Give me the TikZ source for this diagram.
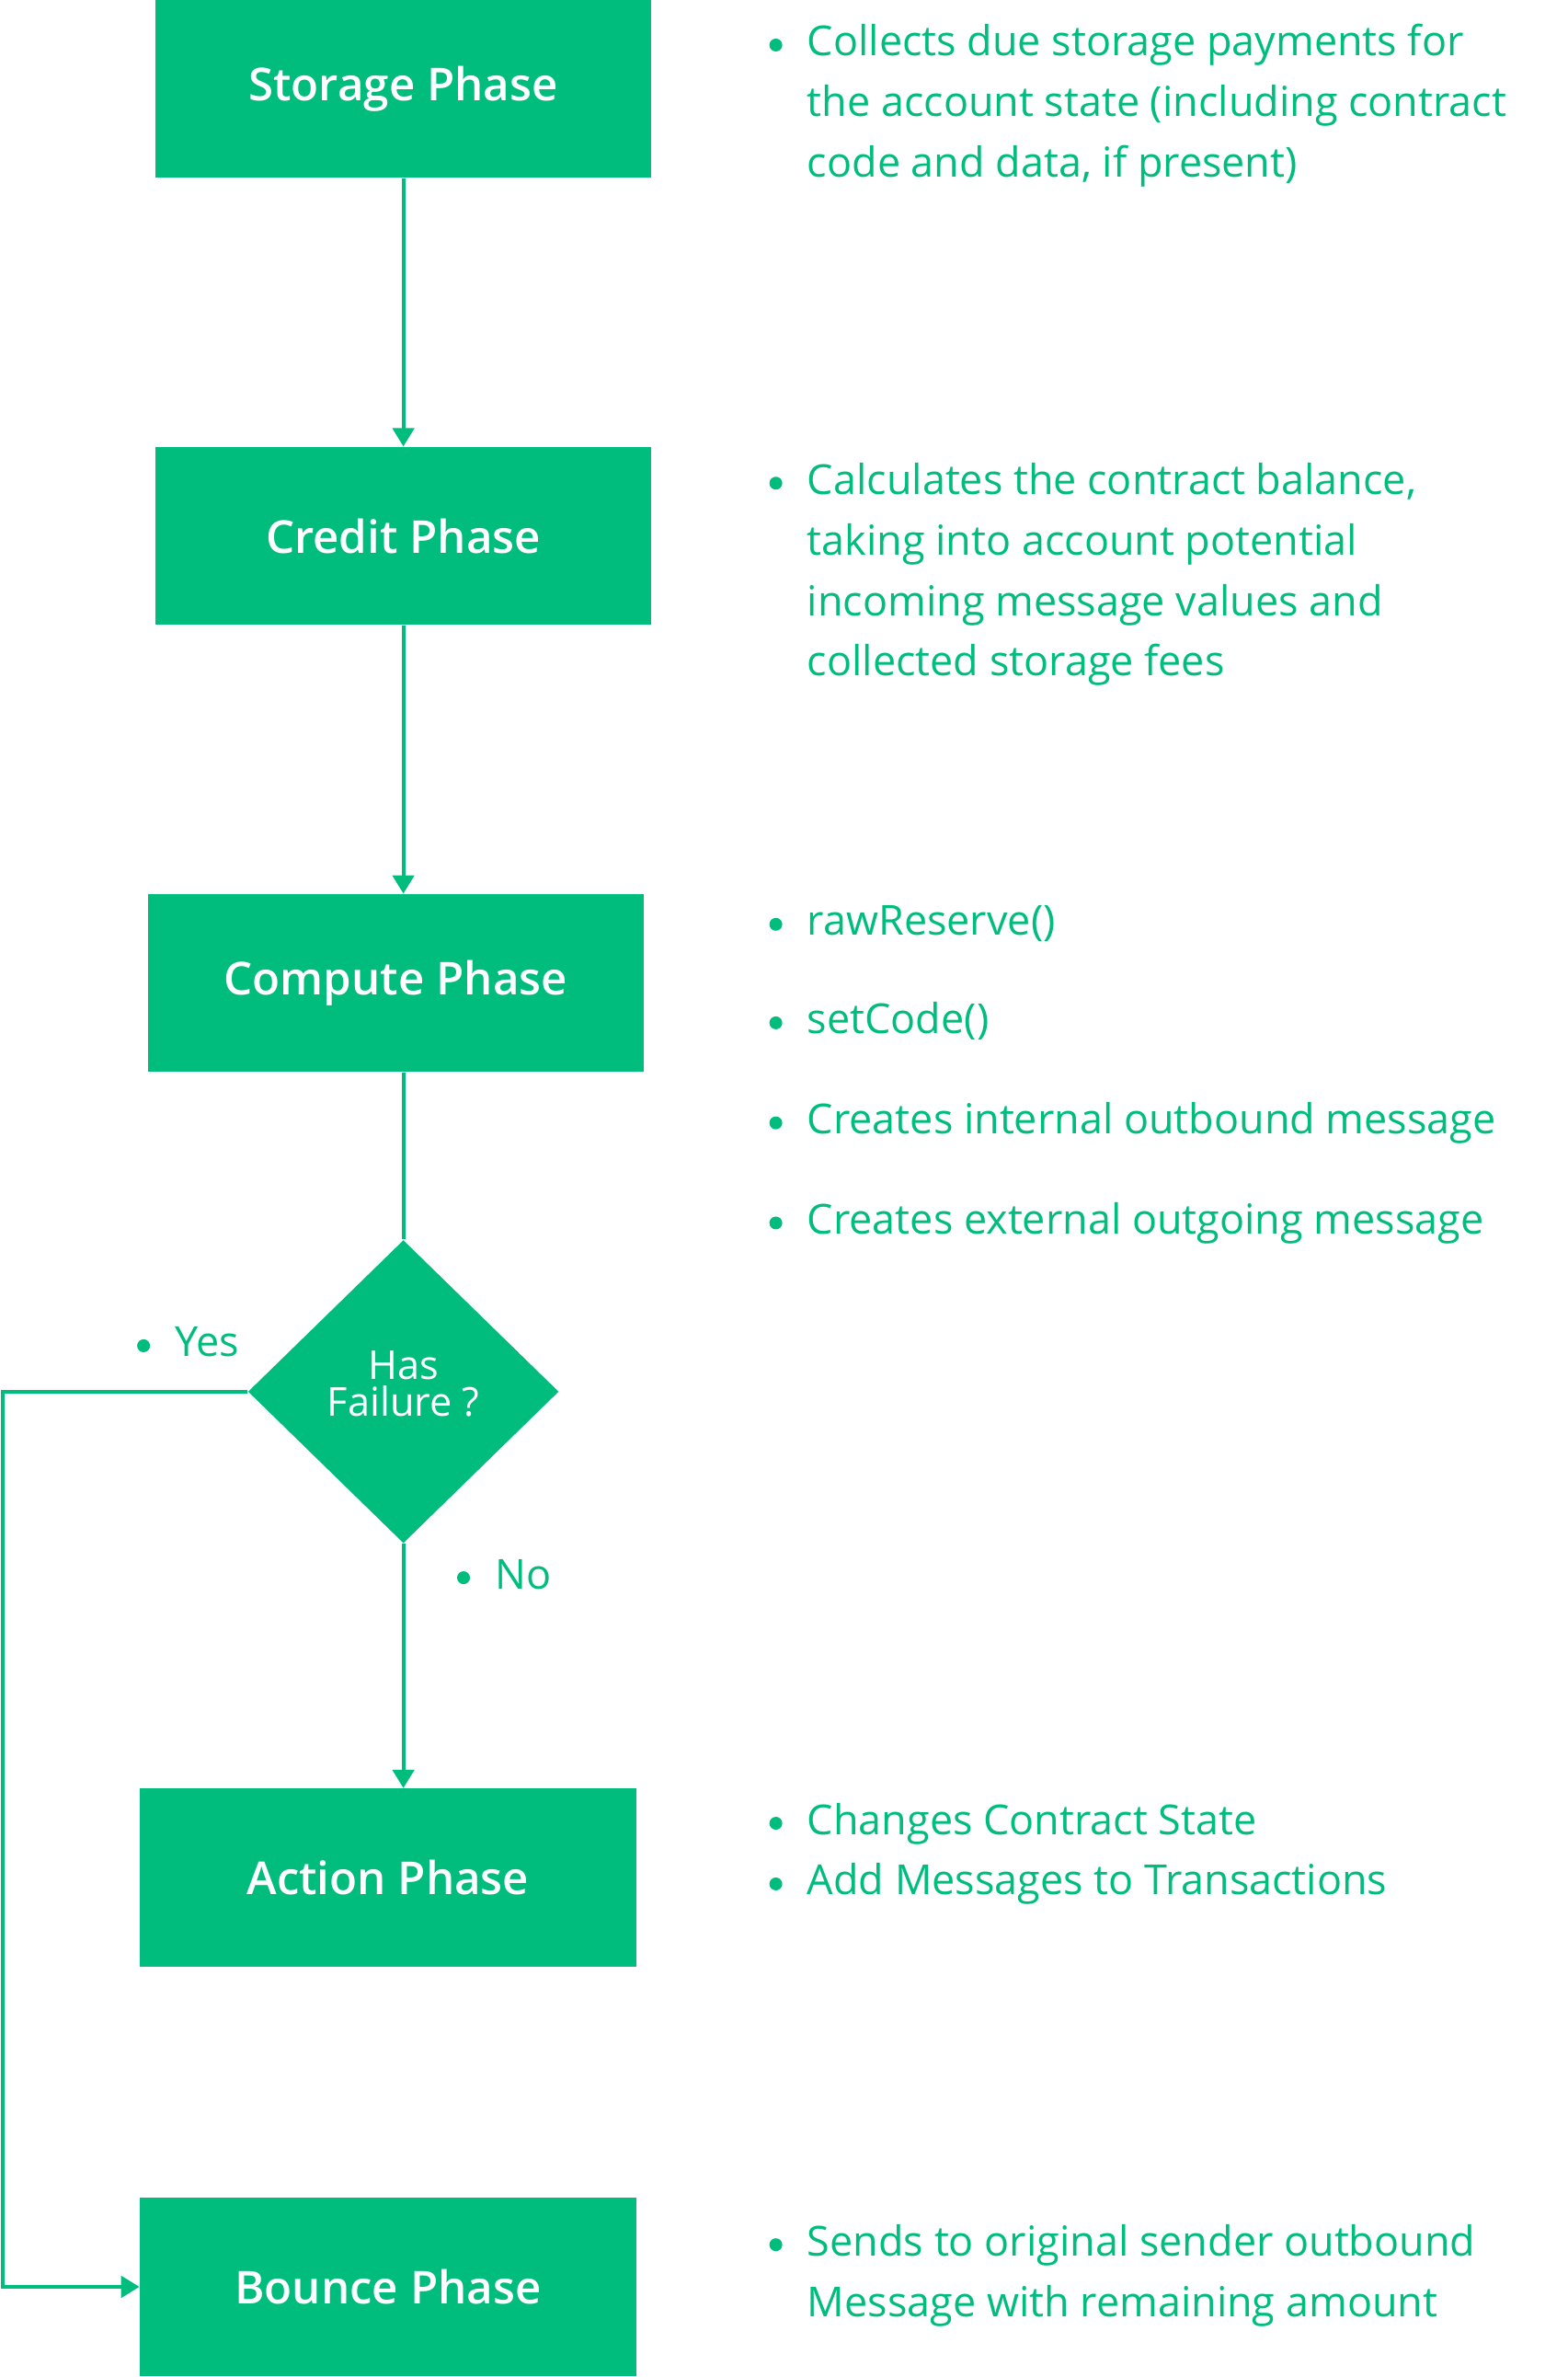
\documentclass[tikz,border=0pt]{standalone}
\usepackage{fontspec}
\setmainfont{Open Sans}
\newfontfamily\labelfont{Open Sans Semibold}
\usetikzlibrary{positioning, shapes.geometric, arrows.meta}
\definecolor{phasegreen}{HTML}{00BC7D}
\newcommand{\bul}{\llap{\raisebox{1.5pt}{\tikz\fill[phasegreen] (0,0) circle (2.1pt);}\hspace{8.2pt}}}

\begin{document}
\begin{tikzpicture}[
    x=0.5pt, y=-0.495pt,
    phase/.style={rectangle, fill=phasegreen, text=white, inner sep=0pt,
        minimum width=162pt, minimum height=58pt,
        font=\fontsize{14.8}{17}\labelfont},
    check/.style={diamond, fill=phasegreen, inner sep=0pt,
        minimum width=101.5pt, minimum height=99pt},
    note/.style={anchor=base west, align=left, inner sep=0pt,
        text=phasegreen, font=\fontsize{13.5}{19.8}\selectfont},
    link/.style={color=phasegreen, line width=1.2pt},
    flow/.style={link, -{Triangle[width=7pt, length=6pt]}}
]
\useasboundingbox (0,0) rectangle (1024,1568);

% Phases
\node[phase] (storage) at (263.5,58.5) {Storage Phase};
\node[phase] (credit) at (263.5,353.5) {Credit Phase};
\node[phase] (compute) at (258.5,648.5) {Compute Phase};
\node[check, label={[align=center, text=white, yshift=2.5pt,
    font=\fontsize{13}{12}\selectfont]center:Has\\Failure ?}] (failure) at (263.5,918) {};
\node[phase] (action) at (253.5,1238.5) {Action Phase};
\node[phase] (bounce) at (253.5,1508.5) {Bounce Phase};

% Notes on the right (placed at the baseline of their last line)
\node[note] (storagenote) at (527,117) {\bul Collects due storage payments for\\
    the account state (including contract\\code and data, if present)};
\node[note] (creditnote) at (527,446) {\bul Calculates the contract balance,\\
    taking into account potential\\incoming message values and\\collected storage fees};
\node[note] (reservenote) at (527,617) {\bul rawReserve()};
\node[note] (codenote) at (527,682) {\bul setCode()};
\node[note] (internalnote) at (527,748) {\bul Creates internal outbound message};
\node[note] (externalnote) at (527,814) {\bul Creates external outgoing message};
\node[note] (actionnote) at (527,1250) {\bul Changes Contract State\\
    \bul Add Messages to Transactions};
\node[note] (bouncenote) at (527,1528) {\bul Sends to original sender outbound\\
    Message with remaining amount};

% Branch labels
\node[note] (yes) at (114,895) {\bul Yes};
\node[note] (no) at (323,1048) {\bul No};

% Edges
\coordinate (bend) at (2,918);
\draw[flow] (storage) -- (credit);
\draw[flow] (credit.south) -- (credit.south |- compute.north);
\draw[link] (failure.north |- compute.south) -- (failure.north);
\draw[flow] (failure.south) -- (failure.south |- action.north);
\draw[flow] (failure.west) -- (bend) |- (bounce.west);

\end{tikzpicture}
\end{document}
